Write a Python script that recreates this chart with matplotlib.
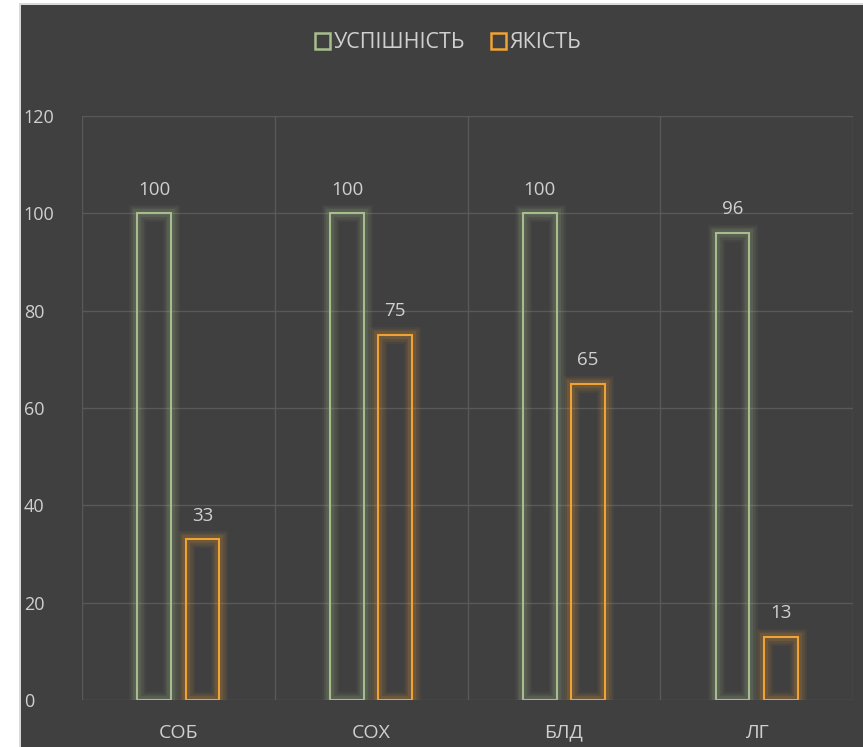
import matplotlib.pyplot as plt
import matplotlib.patheffects as pe
from matplotlib.patches import Rectangle
import numpy as np

categories = ['СОБ', 'СОХ', 'БЛД', 'ЛГ']
uspishnist = [100, 100, 100, 96]
yakist = [33, 75, 65, 13]
series_names = ['УСПІШНІСТЬ', 'ЯКІСТЬ']

bg = '#404040'
txt = '#d0d0d0'
grid = '#595959'
green = '#a8bd8e'
orange = '#f0a234'

plt.rcParams['font.family'] = ['Open Sans', 'DejaVu Sans']

fig = plt.figure(figsize=(8.63, 7.47), dpi=100, facecolor='white')
# dark chart area with thin light frame at top/left
fig.patches.append(Rectangle((19 / 863, 0), 1, 744 / 747, transform=fig.transFigure,
                             facecolor='#d9d9d9', edgecolor='none', zorder=-10))
fig.patches.append(Rectangle((21 / 863, 0), 1, 742 / 747, transform=fig.transFigure,
                             facecolor=bg, edgecolor='none', zorder=-9))

ax = fig.add_axes([82 / 863, 1 - 700 / 747, 771 / 863, 584 / 747])
ax.set_facecolor(bg)
ax.set_zorder(1)

x = np.arange(len(categories))
w = 0.176
off = 0.125


def glow(color):
    return [pe.Stroke(linewidth=12, foreground=color, alpha=0.06),
            pe.Stroke(linewidth=9, foreground=color, alpha=0.09),
            pe.Stroke(linewidth=6, foreground=color, alpha=0.13),
            pe.Normal()]


b1 = ax.bar(x - off, uspishnist, w, facecolor='none', edgecolor=green, linewidth=1.5,
            label=series_names[0], zorder=3)
b2 = ax.bar(x + off, yakist, w, facecolor='none', edgecolor=orange, linewidth=1.5,
            label=series_names[1], zorder=3)
for p in b1:
    p.set_path_effects(glow(green))
for p in b2:
    p.set_path_effects(glow(orange))

for bars, vals in ((b1, uspishnist), (b2, yakist)):
    for r, v in zip(bars, vals):
        ax.text(r.get_x() + r.get_width() / 2, v + 3, str(v), ha='center', va='bottom',
                color=txt, fontsize=13.5)

ax.set_xlim(-0.5, len(categories) - 0.5)
ax.set_ylim(0, 120)
ax.set_yticks(np.arange(0, 121, 20))
ax.set_xticks(x)
ax.set_xticklabels(categories)
ax.set_xticks(np.arange(-0.5, len(categories)), minor=True)
ax.grid(axis='y', color=grid, linewidth=1, zorder=0)
ax.grid(axis='x', which='minor', color=grid, linewidth=1, zorder=0)
ax.tick_params(axis='both', which='both', length=0, colors=txt)
ax.tick_params(axis='x', pad=17, labelsize=14)
ax.tick_params(axis='y', pad=42, labelsize=13)
for lbl in ax.get_yticklabels():
    lbl.set_horizontalalignment('left')
for s in ax.spines.values():
    s.set_visible(False)

leg = fig.legend(loc='center', bbox_to_anchor=(448 / 863, 1 - 43 / 747), ncol=2,
                 frameon=False, fontsize=15.5, handlelength=0.72, handleheight=0.72,
                 handletextpad=0.15, columnspacing=1.2)
for t in leg.get_texts():
    t.set_color(txt)
for h in leg.legend_handles:
    h.set_path_effects([])
    h.set_linewidth(1.8)

fig.savefig('out.png', dpi=100, facecolor=fig.get_facecolor())
